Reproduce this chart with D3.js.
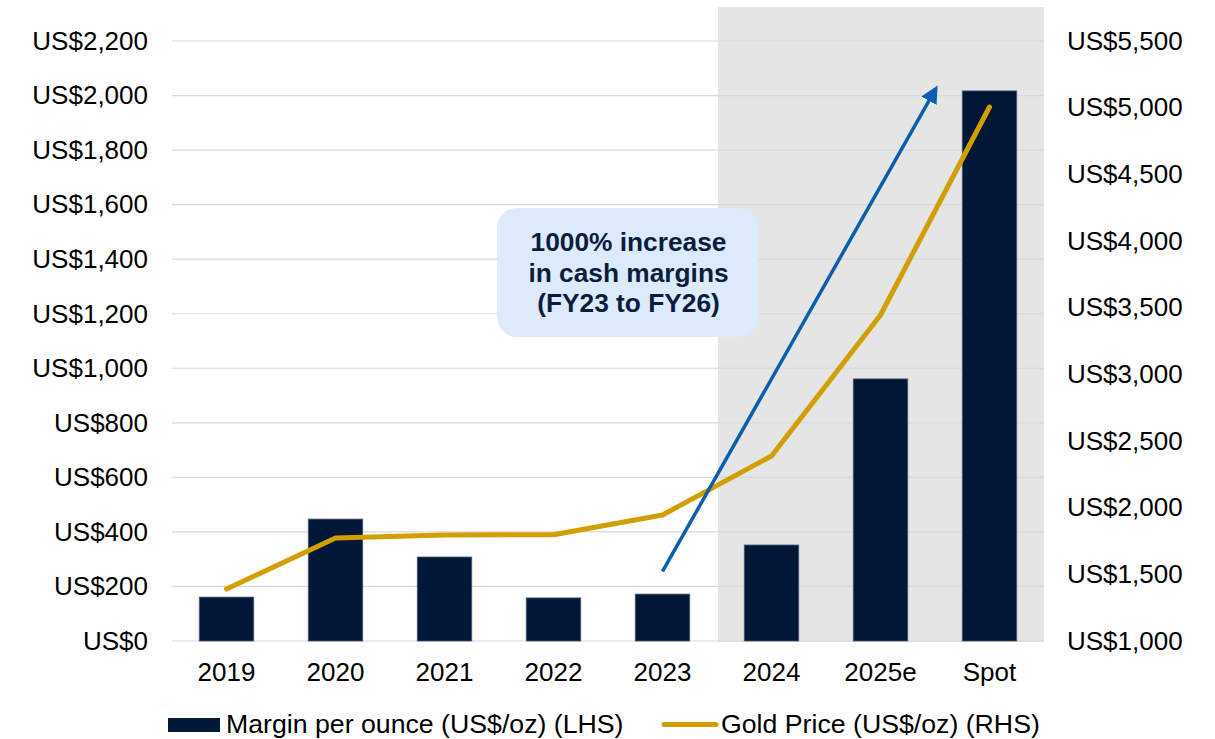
<!DOCTYPE html>
<html><head><meta charset="utf-8">
<script src="https://cdn.jsdelivr.net/npm/d3@7/dist/d3.min.js"></script>
<style>
body{margin:0;background:#fff;}
svg text{font-family:"Liberation Sans",Arial,sans-serif;}
</style></head>
<body><svg id="c" width="1215" height="739"></svg>
<script>
const categories = ["2019","2020","2021","2022","2023","2024","2025e","Spot"];
const margin = [161, 447, 308, 158, 172, 352, 961, 2017];
const goldPrice = [1390, 1772, 1795, 1797, 1945, 2388, 3445, 5005];
const leftTicks = [0,200,400,600,800,1000,1200,1400,1600,1800,2000,2200];
const rightTicks = [1000,1500,2000,2500,3000,3500,4000,4500,5000,5500];
const shadedCats = ["2024","2025e","Spot"];
const annotationLines = ["1000% increase","in cash margins","(FY23 to FY26)"];
const legendLabels = ["Margin per ounce (US$/oz) (LHS)","Gold Price (US$/oz) (RHS)"];

const svg = d3.select("#c");
const X0 = 172, X1 = 1044, Y0 = 641, Y1 = 41;
const x = d3.scaleBand().domain(categories).range([X0, X1]).paddingInner(0.5).paddingOuter(0.25);
const yL = d3.scaleLinear().domain([0, 2200]).range([Y0, Y1]);
const yR = d3.scaleLinear().domain([1000, 5500]).range([Y0, Y1]);
const step = x.step();
const fmt = v => "US$" + d3.format(",")(v);
const FONT = "Liberation Sans, Arial, sans-serif";

// shaded forecast region
const sx0 = x(shadedCats[0]) - step*0.25 + 1;
svg.append("rect").attr("x", sx0).attr("y", 7).attr("width", X1 - sx0).attr("height", Y0 - 7 + 1).attr("fill", "#e5e5e5");

// gridlines
svg.append("g").selectAll("line").data(leftTicks).join("line")
  .attr("x1", X0).attr("x2", X1).attr("y1", d => yL(d)).attr("y2", d => yL(d))
  .attr("stroke", "#d9d9d9").attr("stroke-width", 1.2);

// left axis
const gl = svg.append("g").attr("transform", `translate(${X0},0)`)
  .call(d3.axisLeft(yL).tickValues(leftTicks).tickFormat(fmt).tickSize(0).tickPadding(24));
gl.select(".domain").remove();
gl.selectAll("text").attr("font-size", 26).attr("fill", "#000").attr("font-family", FONT);

// right axis
const gr = svg.append("g").attr("transform", `translate(${X1},0)`)
  .call(d3.axisRight(yR).tickValues(rightTicks).tickFormat(fmt).tickSize(0).tickPadding(23));
gr.select(".domain").remove();
gr.selectAll("text").attr("font-size", 26).attr("fill", "#000").attr("font-family", FONT);

// x axis
const gx = svg.append("g").attr("transform", `translate(0,${Y0})`)
  .call(d3.axisBottom(x).tickSize(0).tickPadding(22));
gx.select(".domain").remove();
gx.selectAll("text").attr("font-size", 26).attr("fill", "#000").attr("font-family", FONT);

// bars
svg.append("g").selectAll("rect").data(categories).join("rect")
  .attr("x", d => x(d)).attr("width", x.bandwidth())
  .attr("y", (d,i) => yL(margin[i])).attr("height", (d,i) => Y0 - yL(margin[i]))
  .attr("fill", "#001735").attr("stroke", "#4d5d78").attr("stroke-width", 0.8);

// gold line
const line = d3.line().x((d,i) => x(categories[i]) + x.bandwidth()/2).y(d => yR(d));
svg.append("path").datum(goldPrice).attr("d", line)
  .attr("fill", "none").attr("stroke", "#d19f00").attr("stroke-width", 5)
  .attr("stroke-linecap", "round").attr("stroke-linejoin", "round");

// arrow
const defs = svg.append("defs");
defs.append("marker").attr("id", "ah").attr("viewBox", "0 0 10 10").attr("refX", 7).attr("refY", 5)
  .attr("markerWidth", 5).attr("markerHeight", 5).attr("orient", "auto")
  .append("path").attr("d", "M0,0 L10,5 L0,10 Z").attr("fill", "#0b5ead");
const ax0 = x("2023") + x.bandwidth()/2, ay0 = yL(255);
const ax1 = x("2025e") + x.bandwidth()/2 + step*0.5, ay1 = yL(2020);
svg.append("line").attr("x1", ax0).attr("y1", ay0).attr("x2", ax1).attr("y2", ay1)
  .attr("stroke", "#0b5ead").attr("stroke-width", 3.5).attr("marker-end", "url(#ah)");

// annotation box
const bx = 497, by = 208, bw = 261, bh = 129;
svg.append("rect").attr("x", bx).attr("y", by).attr("width", bw).attr("height", bh)
  .attr("rx", 20).attr("fill", "#ddeafb");
svg.append("g").selectAll("text").data(annotationLines).join("text")
  .attr("x", bx + bw/2 + 1).attr("y", (d,i) => 251 + i*30.5)
  .attr("text-anchor", "middle").attr("font-size", 26.3).attr("font-weight", "bold")
  .attr("fill", "#0b1d3f").text(d => d);

// legend
svg.append("rect").attr("x", 168).attr("y", 718).attr("width", 52).attr("height", 14).attr("fill", "#001735");
svg.append("text").attr("x", 226).attr("y", 733).attr("font-size", 26.7).attr("fill", "#000").text(legendLabels[0]);
svg.append("line").attr("x1", 664).attr("x2", 716).attr("y1", 724.5).attr("y2", 724.5)
  .attr("stroke", "#d19f00").attr("stroke-width", 5).attr("stroke-linecap", "round");
svg.append("text").attr("x", 721).attr("y", 733).attr("font-size", 26.7).attr("fill", "#000").text(legendLabels[1]);
</script></body></html>
